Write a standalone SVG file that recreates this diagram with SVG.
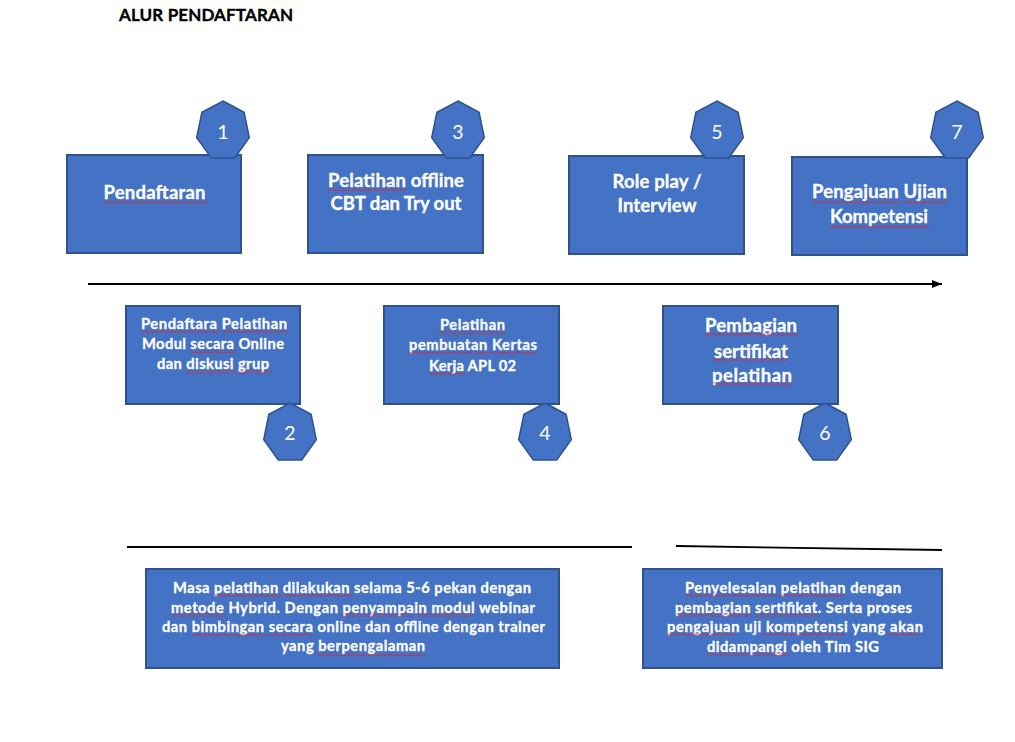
<svg xmlns="http://www.w3.org/2000/svg" width="1015" height="742" viewBox="0 0 1015 742">
<style>
.box{fill:#4472C4;stroke:#2F528F;stroke-width:2}
.hep{fill:#4472C4;stroke:#2F528F;stroke-width:1.5}
.t{font-family:Lato,"Liberation Sans",sans-serif;font-weight:bold;fill:#FFFFFF;stroke:#FFFFFF;stroke-width:0.3;text-anchor:middle}
.big{font-size:18.5px}
.small{font-size:14.7px}
.num{font-family:Lato,"Liberation Sans",sans-serif;font-size:19.5px;fill:#FFFFFF;text-anchor:middle}
.title{font-family:Lato,"Liberation Sans",sans-serif;font-weight:bold;font-size:17px;fill:#000000;stroke:#000000;stroke-width:0.35}
.ln{stroke:#000000;stroke-width:1.8;fill:none}
.sq{fill:url(#sq)}
</style>
<defs>
<pattern id="sq" patternUnits="userSpaceOnUse" width="4" height="3">
<path d="M0,0.6 L2,2.4 L4,0.6" fill="none" stroke="#E0202A" stroke-width="0.9"/>
</pattern>
<polygon id="hept" points="0,-30 21.1,-18.7 26.3,6.7 11.7,27 -11.7,27 -26.3,6.7 -21.1,-18.7"/>
<marker id="arr" markerWidth="10" markerHeight="8" refX="10" refY="4" orient="auto" markerUnits="userSpaceOnUse">
<path d="M0,0 L10,4 L0,8 Z" fill="#000000"/>
</marker>
</defs>
<rect width="1015" height="742" fill="#FFFFFF"/>
<text class="title" x="119" y="21" textLength="174">ALUR PENDAFTARAN</text>

<g id="connectors">
<line class="ln" x1="88" y1="284" x2="942" y2="284" stroke-width="2.5" marker-end="url(#arr)"/>
<line class="ln" x1="127" y1="547" x2="632" y2="547"/>
<line class="ln" x1="676" y1="546" x2="942" y2="550"/>
</g>

<g id="node1">
<rect class="box" x="67" y="155" width="174" height="98"/>
<text class="t big" x="154.5" y="199" textLength="102">Pendaftaran</text>
<use href="#hept" class="hep" x="223" y="131"/>
<text class="num" x="223" y="139">1</text>
</g>

<g id="node3">
<rect class="box" x="308" y="155" width="175" height="98"/>
<text class="t big" x="396" y="187" textLength="136">Pelatihan offline</text>
<text class="t big" x="396" y="210" textLength="131">CBT dan Try out</text>
<use href="#hept" class="hep" x="458" y="131"/>
<text class="num" x="458" y="139">3</text>
</g>

<g id="node5">
<rect class="box" x="569" y="156" width="175" height="98"/>
<text class="t big" x="657" y="188" textLength="89">Role play /</text>
<text class="t big" x="657" y="212" textLength="79">Interview</text>
<use href="#hept" class="hep" x="717" y="131"/>
<text class="num" x="717" y="139">5</text>
</g>

<g id="node7">
<rect class="box" x="792" y="157" width="175" height="98"/>
<text class="t big" x="879.5" y="198" textLength="135">Pengajuan Ujian</text>
<text class="t big" x="879" y="223" textLength="98">Kompetensi</text>
<use href="#hept" class="hep" x="957" y="131"/>
<text class="num" x="957" y="139">7</text>
</g>

<g id="node2">
<rect class="box" x="126" y="306" width="174" height="98"/>
<text class="t small" x="214" y="329" textLength="146">Pendaftara Pelatihan</text>
<text class="t small" x="213" y="349" textLength="142">Modul secara Online</text>
<text class="t small" x="213" y="369" textLength="112">dan diskusi grup</text>
<use href="#hept" class="hep" x="290" y="433"/>
<text class="num" x="290" y="440">2</text>
</g>

<g id="node4">
<rect class="box" x="384" y="306" width="175" height="98"/>
<text class="t small" x="472.5" y="330" textLength="65">Pelatihan</text>
<text class="t small" x="473" y="350" textLength="128">pembuatan Kertas</text>
<text class="t small" x="472.5" y="371" textLength="87">Kerja APL 02</text>
<use href="#hept" class="hep" x="545" y="433"/>
<text class="num" x="545" y="440">4</text>
</g>

<g id="node6">
<rect class="box" x="663" y="306" width="175" height="98"/>
<text class="t big" x="751" y="332" textLength="92">Pembagian</text>
<text class="t big" x="751" y="358" textLength="74">sertifikat</text>
<text class="t big" x="752" y="382" textLength="80">pelatihan</text>
<use href="#hept" class="hep" x="825" y="433"/>
<text class="num" x="825" y="440">6</text>
</g>

<g id="note1">
<rect class="box" x="146" y="569" width="413" height="99"/>
<text class="t small" x="352" y="593" textLength="358">Masa pelatihan dilakukan selama 5-6 pekan dengan</text>
<text class="t small" x="353" y="612.5" textLength="364">metode Hybrid. Dengan penyampain modul webinar</text>
<text class="t small" x="353.5" y="632" textLength="383">dan bimbingan secara online dan offline dengan trainer</text>
<text class="t small" x="353" y="651" textLength="144">yang berpengalaman</text>
</g>

<g id="note2">
<rect class="box" x="643" y="569" width="299" height="99"/>
<text class="t small" x="793" y="593" textLength="216">Penyelesaian pelatihan dengan</text>
<text class="t small" x="793.5" y="612.5" textLength="237">pembagian sertifikat. Serta proses</text>
<text class="t small" x="795" y="632" textLength="256">pengajuan uji kompetensi yang akan</text>
<text class="t small" x="793" y="651.5" textLength="172">didampangi oleh Tim SIG</text>
</g>

<g id="spellcheck">
<rect class="sq" x="103" y="200.5" width="105" height="3"/>
<rect class="sq" x="328" y="188" width="78" height="3"/>
<rect class="sq" x="812" y="200.5" width="87" height="3"/>
<rect class="sq" x="903" y="200.5" width="45" height="3"/>
<rect class="sq" x="830" y="225.5" width="99" height="3"/>
<rect class="sq" x="141" y="330.5" width="77" height="3"/>
<rect class="sq" x="222" y="330.5" width="65" height="3"/>
<rect class="sq" x="190" y="350.5" width="46" height="3"/>
<rect class="sq" x="187" y="370.5" width="49" height="3"/>
<rect class="sq" x="239" y="370.5" width="33" height="3"/>
<rect class="sq" x="439" y="331.5" width="67" height="3"/>
<rect class="sq" x="408" y="351.5" width="64" height="3"/>
<rect class="sq" x="475" y="351.5" width="62" height="3"/>
<rect class="sq" x="429" y="372.5" width="36" height="3"/>
<rect class="sq" x="704" y="332.5" width="94" height="3"/>
<rect class="sq" x="713" y="358.5" width="75" height="3"/>
<rect class="sq" x="712" y="382.5" width="81" height="3"/>
<rect class="sq" x="215" y="594" width="67" height="3"/>
<rect class="sq" x="285" y="594" width="68" height="3"/>
<rect class="sq" x="172" y="613.5" width="53" height="3"/>
<rect class="sq" x="340" y="613.5" width="73" height="3"/>
<rect class="sq" x="417" y="613.5" width="56" height="3"/>
<rect class="sq" x="192" y="633.5" width="75" height="3"/>
<rect class="sq" x="270" y="633.5" width="43" height="3"/>
<rect class="sq" x="317" y="653.5" width="108" height="3"/>
<rect class="sq" x="685" y="594" width="90" height="3"/>
<rect class="sq" x="778" y="594" width="67" height="3"/>
<rect class="sq" x="675" y="613.5" width="77" height="3"/>
<rect class="sq" x="755" y="613.5" width="62" height="3"/>
<rect class="sq" x="667" y="632.5" width="68" height="3"/>
<rect class="sq" x="763" y="632.5" width="82" height="3"/>
<rect class="sq" x="887" y="632.5" width="32" height="3"/>
<rect class="sq" x="707" y="652.5" width="83" height="3"/>
</g>
</svg>
